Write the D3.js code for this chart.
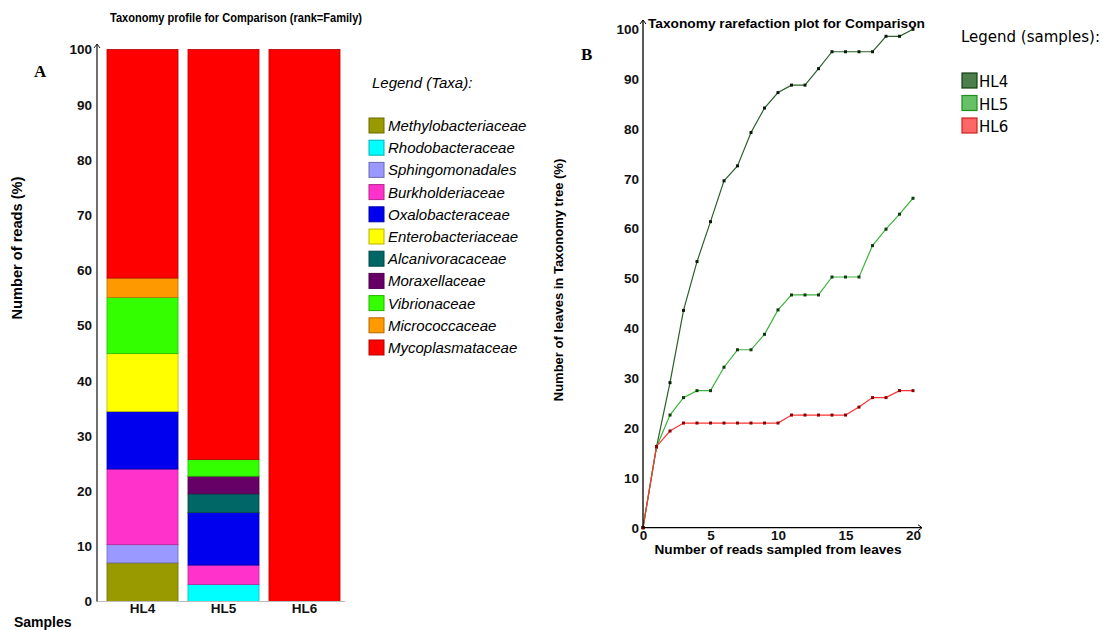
<!DOCTYPE html>
<html>
<head>
<meta charset="utf-8">
<script src="https://cdn.jsdelivr.net/npm/d3@7"></script>
<style>
  body { margin: 0; background: #fff; }
  svg { display: block; }
  .ax text { font-family: "Liberation Sans", Arial, sans-serif; font-weight: bold; font-size: 13.5px; fill: #111; }
</style>
</head>
<body>
<svg id="chart" width="1103" height="630"></svg>
<script>
// ---- panel A data: % of reads per family
var samples = ["HL4", "HL5", "HL6"];
var taxa = ["Methylobacteriaceae", "Rhodobacteraceae", "Sphingomonadales", "Burkholderiaceae",
  "Oxalobacteraceae", "Enterobacteriaceae", "Alcanivoracaceae", "Moraxellaceae",
  "Vibrionaceae", "Micrococcaceae", "Mycoplasmataceae"];
var taxaColors = ["#999900", "#00ffff", "#9999ff", "#ff33cc", "#0000ee", "#ffff00",
  "#006666", "#660066", "#33ff00", "#ff9900", "#ff0000"];
var hl4Reads = [7.0, 0, 3.3, 13.7, 10.4, 10.5, 0, 0, 10.2, 3.5, 41.4];
var hl5Reads = [0, 3.1, 0, 3.5, 9.5, 0, 3.4, 3.2, 3.0, 0, 74.3];
var hl6Reads = [0, 0, 0, 0, 0, 0, 0, 0, 0, 0, 100];
var pctTicks = [0, 10, 20, 30, 40, 50, 60, 70, 80, 90, 100];

// ---- panel B data: rarefaction
var readsSampled = [0, 1, 2, 3, 4, 5, 6, 7, 8, 9, 10, 11, 12, 13, 14, 15, 16, 17, 18, 19, 20];
var hl4Leaves = [0, 16.2, 29.1, 43.6, 53.4, 61.4, 69.6, 72.6, 79.3, 84.2, 87.3, 88.8, 88.8, 92.1, 95.5, 95.5, 95.5, 95.5, 98.6, 98.6, 100];
var hl5Leaves = [0, 16.2, 22.6, 26.1, 27.5, 27.5, 32.2, 35.7, 35.7, 38.8, 43.7, 46.7, 46.7, 46.7, 50.3, 50.3, 50.3, 56.6, 59.9, 62.9, 66.1];
var hl6Leaves = [0, 16.3, 19.4, 21.0, 21.0, 21.0, 21.0, 21.0, 21.0, 21.0, 21.0, 22.6, 22.6, 22.6, 22.6, 22.6, 24.2, 26.1, 26.1, 27.5, 27.5];
var readTicks = [0, 5, 10, 15, 20];

var svg = d3.select("#chart");
var font = "'Liberation Sans', Arial, sans-serif";

// =================== panel A ===================
var rows = [hl4Reads, hl5Reads, hl6Reads].map(function (vals, i) {
  var d = { Name: samples[i] };
  taxa.forEach(function (t, j) { d[t] = vals[j]; });
  return d;
});

var xA = d3.scaleBand().domain(samples).range([107, 340]).paddingInner(0.123);
var yA = d3.scaleLinear().domain([0, 100]).range([601.5, 49.5]);
var zA = d3.scaleOrdinal().domain(taxa).range(taxaColors);

var gA = svg.append("g");

gA.append("g")
  .selectAll("g")
  .data(d3.stack().keys(taxa)(rows))
  .enter()
  .append("g")
  .attr("fill", function (d) { return zA(d.key); })
  .attr("stroke", function (d) { return d3.color(zA(d.key)).darker(0.9); })
  .selectAll("rect")
  .data(function (d) { return d.filter(function (s) { return s[1] - s[0] > 0; }); })
  .enter()
  .append("rect")
  .attr("x", function (d) { return xA(d.data.Name); })
  .attr("y", function (d) { return yA(d[1]); })
  .attr("width", xA.bandwidth())
  .attr("height", function (d) { return yA(d[0]) - yA(d[1]); })
  .attr("stroke-width", 0.8);

// x axis (light grey base line)
gA.append("line")
  .attr("x1", 97).attr("x2", 345)
  .attr("y1", yA(0)).attr("y2", yA(0))
  .attr("stroke", "#bbb").attr("stroke-width", 1.2);

gA.append("g")
  .attr("class", "ax")
  .attr("transform", "translate(0," + yA(0) + ")")
  .call(d3.axisBottom(xA).tickSize(0).tickPadding(2))
  .call(function (g) { g.select(".domain").remove(); });

// y axis
gA.append("g")
  .attr("class", "ax")
  .attr("transform", "translate(97,0)")
  .call(d3.axisLeft(yA).tickValues(pctTicks).tickSize(0).tickPadding(5))
  .call(function (g) { g.select(".domain").remove(); });

gA.append("line")
  .attr("x1", 97).attr("x2", 97)
  .attr("y1", yA(0)).attr("y2", 44)
  .attr("stroke", "#222").attr("stroke-width", 1.3);
gA.append("path")
  .attr("d", "M94,48L97,44L100,48")
  .attr("fill", "none").attr("stroke", "#222").attr("stroke-width", 1);

gA.append("text")
  .attr("x", 110).attr("y", 22)
  .attr("textLength", 252).attr("lengthAdjust", "spacingAndGlyphs")
  .attr("font-family", font).attr("font-weight", "bold").attr("font-size", 13)
  .text("Taxonomy profile for Comparison (rank=Family)");

gA.append("text")
  .attr("transform", "translate(22,248) rotate(-90)")
  .attr("text-anchor", "middle")
  .attr("textLength", 143).attr("lengthAdjust", "spacingAndGlyphs")
  .attr("font-family", font).attr("font-weight", "bold").attr("font-size", 14)
  .text("Number of reads (%)");

gA.append("text")
  .attr("x", 14).attr("y", 627)
  .attr("font-family", font).attr("font-weight", "bold").attr("font-size", 14)
  .text("Samples");

gA.append("text")
  .attr("x", 34).attr("y", 77)
  .attr("font-family", "'Liberation Serif', 'DejaVu Serif', serif").attr("font-weight", "bold").attr("font-size", 17)
  .text("A");

// taxa legend
var legA = gA.append("g")
  .attr("font-family", font);

legA.append("text")
  .attr("x", 372).attr("y", 88)
  .attr("font-style", "italic").attr("font-size", 15)
  .text("Legend (Taxa):");

var legItems = legA.selectAll("g.item")
  .data(taxa)
  .enter()
  .append("g")
  .attr("class", "item")
  .attr("transform", function (d, i) { return "translate(369," + (118 + i * 22.2) + ")"; });

legItems.append("rect")
  .attr("width", 15).attr("height", 15)
  .attr("fill", zA)
  .attr("stroke", function (d) { return d3.color(zA(d)).darker(1); })
  .attr("stroke-width", 1);

legItems.append("text")
  .attr("x", 19).attr("y", 13)
  .attr("font-style", "italic").attr("font-size", 15)
  .text(function (d) { return d; });

// =================== panel B ===================
var xB = d3.scaleLinear().domain([0, 20]).range([643, 913]);
var yB = d3.scaleLinear().domain([0, 100]).range([527.7, 29.3]);

var series = [
  { key: "HL4", vals: hl4Leaves, line: "#2a602a", dot: "#0a1a0a", fill: "#4d7f4d", stroke: "#123f12" },
  { key: "HL5", vals: hl5Leaves, line: "#3cb43c", dot: "#0d3a0d", fill: "#66c066", stroke: "#1a901a" },
  { key: "HL6", vals: hl6Leaves, line: "#ff3333", dot: "#8a0000", fill: "#ff6666", stroke: "#cc2222" }
];

var gB = svg.append("g");

var line = d3.line()
  .x(function (d, i) { return xB(readsSampled[i]); })
  .y(function (d) { return yB(d); });

var sg = gB.selectAll("g.series")
  .data(series)
  .enter()
  .append("g")
  .attr("class", "series");

sg.append("path")
  .attr("d", function (d) { return line(d.vals); })
  .attr("fill", "none")
  .attr("stroke", function (d) { return d.line; })
  .attr("stroke-width", 1.2);

sg.each(function (s) {
  d3.select(this).selectAll("rect")
    .data(s.vals)
    .enter()
    .append("rect")
    .attr("x", function (d, i) { return xB(readsSampled[i]) - 1.5; })
    .attr("y", function (d) { return yB(d) - 1.5; })
    .attr("width", 3).attr("height", 3)
    .attr("fill", s.dot);
});

// axes
gB.append("g")
  .attr("class", "ax")
  .attr("transform", "translate(0," + yB(0) + ")")
  .call(d3.axisBottom(xB).tickValues(readTicks).tickSize(0).tickPadding(3))
  .call(function (g) { g.select(".domain").remove(); });

gB.append("g")
  .attr("class", "ax")
  .attr("transform", "translate(643,0)")
  .call(d3.axisLeft(yB).tickValues(pctTicks).tickSize(0).tickPadding(4))
  .call(function (g) { g.select(".domain").remove(); });

gB.append("line")
  .attr("x1", 643).attr("x2", 643).attr("y1", yB(0)).attr("y2", 20)
  .attr("stroke", "#000").attr("stroke-width", 1.3);
gB.append("path")
  .attr("d", "M640,24L643,20L646,24")
  .attr("fill", "none").attr("stroke", "#000").attr("stroke-width", 1);
gB.append("line")
  .attr("x1", 643).attr("x2", 922).attr("y1", yB(0)).attr("y2", yB(0))
  .attr("stroke", "#000").attr("stroke-width", 1.3);
gB.append("path")
  .attr("d", "M918," + (yB(0) - 3) + "L922," + yB(0) + "L918," + (yB(0) + 3))
  .attr("fill", "none").attr("stroke", "#000").attr("stroke-width", 1);

gB.append("text")
  .attr("x", 648).attr("y", 28)
  .attr("textLength", 277).attr("lengthAdjust", "spacingAndGlyphs")
  .attr("font-family", font).attr("font-weight", "bold").attr("font-size", 13)
  .text("Taxonomy rarefaction plot for Comparison");

gB.append("text")
  .attr("x", 778).attr("y", 554)
  .attr("text-anchor", "middle")
  .attr("textLength", 247).attr("lengthAdjust", "spacingAndGlyphs")
  .attr("font-family", font).attr("font-weight", "bold").attr("font-size", 13)
  .text("Number of reads sampled from leaves");

gB.append("text")
  .attr("transform", "translate(563,280) rotate(-90)")
  .attr("text-anchor", "middle")
  .attr("font-family", font).attr("font-weight", "bold").attr("font-size", 13)
  .text("Number of leaves in Taxonomy tree (%)");

gB.append("text")
  .attr("x", 581).attr("y", 60)
  .attr("font-family", "'Liberation Serif', 'DejaVu Serif', serif").attr("font-weight", "bold").attr("font-size", 17)
  .text("B");

// samples legend
var legB = gB.append("g").attr("font-family", "'DejaVu Sans', sans-serif");
legB.append("text")
  .attr("x", 961).attr("y", 42)
  .attr("font-size", 15)
  .text("Legend (samples):");

var legBItems = legB.selectAll("g.item")
  .data(series)
  .enter()
  .append("g")
  .attr("class", "item")
  .attr("transform", function (d, i) { return "translate(962," + (73 + i * 22.5) + ")"; });

legBItems.append("rect")
  .attr("width", 15).attr("height", 15)
  .attr("fill", function (d) { return d.fill; })
  .attr("stroke", function (d) { return d.stroke; })
  .attr("stroke-width", 1.2);

legBItems.append("text")
  .attr("x", 17).attr("y", 14)
  .attr("font-size", 15)
  .text(function (d) { return d.key; });
</script>
</body>
</html>
